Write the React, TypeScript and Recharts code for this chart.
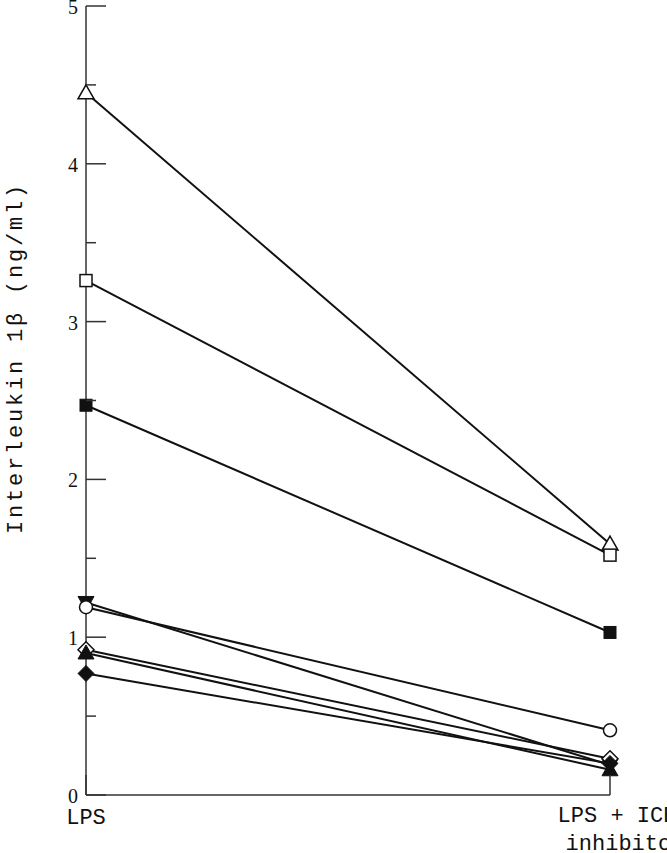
import { Line, LineChart, XAxis, YAxis, Label } from "recharts"

const categories = ["LPS", "LPS + ICE inhibitor"]

const openTriangle = [4.45, 1.59]
const openSquare = [3.26, 1.52]
const filledSquare = [2.47, 1.03]
const filledDownTriangle = [1.22, 0.19]
const openCircle = [1.19, 0.41]
const openDiamond = [0.92, 0.23]
const filledTriangle = [0.9, 0.16]
const filledDiamond = [0.77, 0.2]

const yTicks = [0, 0.5, 1, 1.5, 2, 2.5, 3, 3.5, 4, 4.5, 5]

const data = categories.map((name, i) => ({
  name,
  openTriangle: openTriangle[i],
  openSquare: openSquare[i],
  filledSquare: filledSquare[i],
  filledDownTriangle: filledDownTriangle[i],
  openCircle: openCircle[i],
  openDiamond: openDiamond[i],
  filledTriangle: filledTriangle[i],
  filledDiamond: filledDiamond[i],
}))

const ink = "#111"

const marker = (kind: string) => (props: any) => {
  const { cx, cy, index } = props
  if (cx == null || cy == null) return null
  const key = `${kind}-${index}`
  switch (kind) {
    case "openTriangle":
      return <polygon key={key} points={`${cx},${cy - 8} ${cx + 8},${cy + 6} ${cx - 8},${cy + 6}`} fill="#fff" stroke={ink} strokeWidth={1.5} />
    case "filledTriangle":
      return <polygon key={key} points={`${cx},${cy - 8} ${cx + 8},${cy + 6} ${cx - 8},${cy + 6}`} fill={ink} stroke={ink} strokeWidth={1} />
    case "filledDownTriangle":
      return <polygon key={key} points={`${cx},${cy + 8} ${cx + 8},${cy - 6} ${cx - 8},${cy - 6}`} fill={ink} stroke={ink} strokeWidth={1} />
    case "openSquare":
      return <rect key={key} x={cx - 6} y={cy - 6} width={12} height={12} fill="#fff" stroke={ink} strokeWidth={1.5} />
    case "filledSquare":
      return <rect key={key} x={cx - 6} y={cy - 6} width={12} height={12} fill={ink} stroke={ink} strokeWidth={1} />
    case "openCircle":
      return <circle key={key} cx={cx} cy={cy} r={6.5} fill="#fff" stroke={ink} strokeWidth={1.5} />
    case "openDiamond":
      return <polygon key={key} points={`${cx},${cy - 8} ${cx + 8},${cy} ${cx},${cy + 8} ${cx - 8},${cy}`} fill="#fff" stroke={ink} strokeWidth={1.5} />
    case "filledDiamond":
      return <polygon key={key} points={`${cx},${cy - 8} ${cx + 8},${cy} ${cx},${cy + 8} ${cx - 8},${cy}`} fill={ink} stroke={ink} strokeWidth={1} />
  }
  return null
}

const YTick = (props: any) => {
  const { x, y, payload } = props
  const major = Number.isInteger(payload.value)
  return (
    <g>
      <line x1={x} y1={y} x2={x + (major ? 20 : 10)} y2={y} stroke="#333" strokeWidth={1.5} />
      {major && (
        <text x={x - 8} y={y + 8} textAnchor="end" fontFamily="'Liberation Serif', serif" fontSize={20} fill={ink}>
          {payload.value}
        </text>
      )}
    </g>
  )
}

const XTick = (props: any) => {
  const { x, y, payload, index } = props
  const text = String(payload.value)
  return (
    <g>
      <line x1={x} y1={y} x2={x} y2={y - 20} stroke="#333" strokeWidth={1.5} />
      {index === 0 ? (
        <text x={x} y={y + 29} textAnchor="middle" fontFamily="'Liberation Mono', monospace" fontSize={22} fill={ink}>
          {text}
        </text>
      ) : (
        <text fontFamily="'Liberation Mono', monospace" fontSize={22} fill={ink} textAnchor="middle">
          <tspan x={x + 7} y={y + 27}>{text.split(" inhibitor")[0]}</tspan>
          <tspan x={x + 15} y={y + 55}>inhibitor</tspan>
        </text>
      )}
    </g>
  )
}

const series = [
  "openTriangle",
  "openSquare",
  "filledSquare",
  "filledDownTriangle",
  "openCircle",
  "openDiamond",
  "filledTriangle",
  "filledDiamond",
]

export default function App() {
  return (
    <div style={{ position: "absolute", left: 0, top: 0, background: "#fff" }}>
      <LineChart width={667} height={853} data={data} margin={{ top: 6, right: 57, bottom: 0, left: 0 }}>
        <XAxis
          dataKey="name"
          height={58}
          stroke="#333"
          strokeWidth={1.5}
          tickSize={0}
          tickMargin={0}
          tick={<XTick />}
          interval={0}
        />
        <YAxis
          type="number"
          domain={[0, 5]}
          ticks={yTicks}
          width={86}
          stroke="#333"
          strokeWidth={1.5}
          tickSize={0}
          tickMargin={0}
          tick={<YTick />}
          interval={0}
        >
          <Label
            content={() => (
              <text
                transform="translate(22, 358) rotate(-90)"
                textAnchor="middle"
                fontFamily="'Liberation Mono', monospace"
                fontSize={22}
                letterSpacing={2.8}
                fill={ink}
              >
                Interleukin 1β (ng/ml)
              </text>
            )}
          />
        </YAxis>
        {series.map((key) => (
          <Line
            key={key}
            type="linear"
            dataKey={key}
            stroke={ink}
            strokeWidth={2}
            dot={marker(key)}
            activeDot={false}
            isAnimationActive={false}
          />
        ))}
      </LineChart>
    </div>
  )
}
